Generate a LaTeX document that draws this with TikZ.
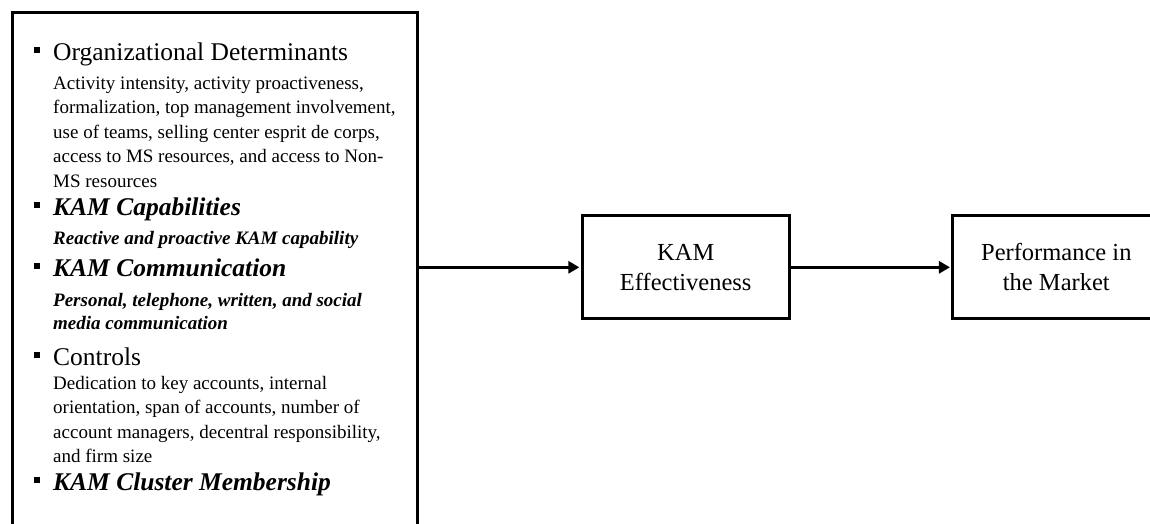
\documentclass[tikz,border=0pt]{standalone}
\usepackage{fontspec}
\setmainfont{Liberation Serif}
\usetikzlibrary{positioning,arrows.meta}

\tikzset{kambox/.style={draw,line width=3pt,minimum width=206.7pt,minimum height=103.3pt,align=center,font=\fontsize{24.5}{30}\selectfont}}
\tikzset{flow/.style={line width=3pt,-{Triangle[length=11pt,width=12pt]},shorten >=1.5pt}}
\tikzset{head/.style={anchor=base west,inner sep=0pt,font=\fontsize{25.5}{30}\selectfont}}
\tikzset{body/.style={anchor=north west,inner sep=0pt,align=left,font=\fontsize{19}{24.5}\selectfont}}
\tikzset{bullet/.style={fill,inner sep=0pt,minimum size=6pt}}

\begin{document}
\begin{tikzpicture}[x=1pt,y=-1pt]
    \useasboundingbox (0,0) rectangle (1150,523);
    \clip (0,0) rectangle (1150,523);
    % the big box on the left, its bottom is cut off
    \node[draw,line width=3pt,minimum width=405.6pt,minimum height=560pt,anchor=north west] (drivers) at (10.7,11.3) {};

    % the items in it (body nodes hang from the top of their first line strut)
    \node[bullet] (b1) at (36.5,50) {};
    \node[head] (h1) at (53,60) {Organizational Determinants};
    \node[body] (t1) at (53,71.85) {\strut Activity intensity, activity proactiveness,\\
        formalization, top management involvement,\\
        use of teams, selling center esprit de corps,\\
        access to MS resources, and access to Non-\\
        MS resources};

    \node[bullet] (b2) at (36.5,205) {};
    \node[head,font=\fontsize{25.5}{30}\selectfont\bfseries\itshape] (h2) at (53,215) {KAM Capabilities};
    \node[body,font=\fontsize{19}{24.5}\selectfont\bfseries\itshape] (t2) at (53,226.85) {\strut Reactive and proactive KAM capability};

    \node[bullet] (b3) at (36.5,266) {};
    \node[head,font=\fontsize{25.5}{30}\selectfont\bfseries\itshape] (h3) at (53,276) {KAM Communication};
    \node[body,font=\fontsize{19}{23}\selectfont\bfseries\itshape] (t3) at (53,289.9) {\strut Personal, telephone, written, and social\\
        media communication};

    \node[bullet] (b4) at (36.5,355) {};
    \node[head] (h4) at (53,365) {Controls};
    \node[body] (t4) at (53,371.85) {\strut Dedication to key accounts, internal\\
        orientation, span of accounts, number of\\
        account managers, decentral responsibility,\\
        and firm size};

    \node[bullet] (b5) at (36.5,480) {};
    \node[head,font=\fontsize{25.5}{30}\selectfont\bfseries\itshape] (h5) at (53,490) {KAM Cluster Membership};

    % the two boxes on the right
    \node[kambox] (effect) at (685.7,267.3) {KAM\\Effectiveness};
    \node[kambox] (market) at (1056.3,267.3) {Performance in\\the Market};

    \draw[flow] (drivers.east |- effect.west) -- (effect.west);
    \draw[flow] (effect) -- (market);
\end{tikzpicture}
\end{document}
